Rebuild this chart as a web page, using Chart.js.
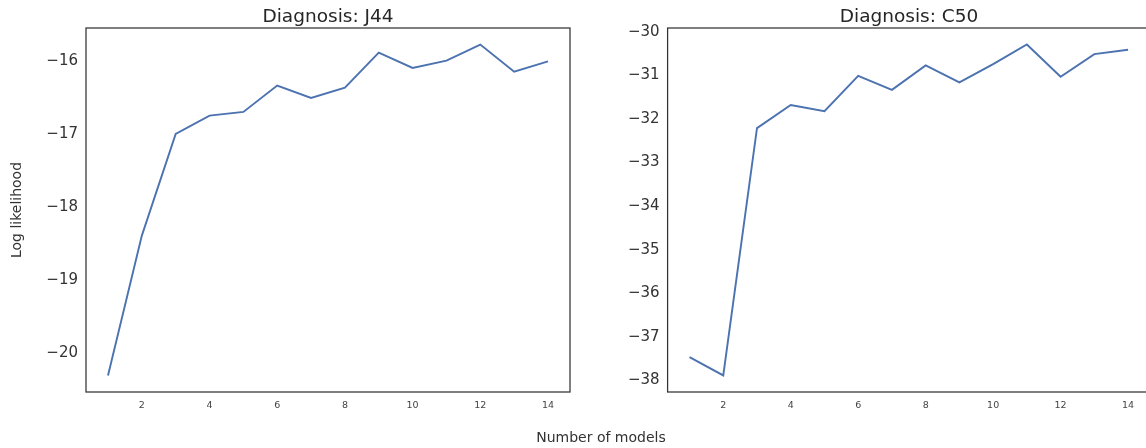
<!DOCTYPE html>
<html>
<head>
<meta charset="utf-8">
<script src="https://cdn.jsdelivr.net/npm/chart.js@4"></script>
<style>
  html, body { margin: 0; padding: 0; background: #fff; }
  body { width: 1146px; height: 448px; position: relative; overflow: hidden; }
  .panel { position: absolute; top: 0; height: 448px; }
  #left { left: 0; width: 656px; }
  #right { left: 580px; width: 658px; }
  #xlabel {
    position: absolute; left: 501px; width: 200px; top: 429px;
    text-align: center; font: 14px "DejaVu Sans"; color: #333;
  }
</style>
</head>
<body>
<div class="panel" id="left"><canvas id="j44Chart"></canvas></div>
<div class="panel" id="right"><canvas id="c50Chart"></canvas></div>
<div id="xlabel">Number of models</div>
<script>
const modelCounts = [1, 2, 3, 4, 5, 6, 7, 8, 9, 10, 11, 12, 13, 14];
const j44LogLik = [-20.30, -18.39, -17.00, -16.75, -16.70, -16.34, -16.51, -16.37, -15.89, -16.10, -16.00, -15.78, -16.15, -16.01];
const c50LogLik = [-37.47, -37.89, -32.21, -31.68, -31.82, -31.01, -31.33, -30.77, -31.16, -30.74, -30.29, -31.03, -30.51, -30.41];
const xTicks = [2, 4, 6, 8, 10, 12, 14];
const j44Ticks = [-20, -19, -18, -17, -16];
const c50Ticks = [-38, -37, -36, -35, -34, -33, -32, -31, -30];

Chart.defaults.font.family = "DejaVu Sans";
Chart.defaults.color = "#333";

// matplotlib-style box round the plot area
const frame = {
  id: "frame",
  afterDraw(chart) {
    const { ctx, chartArea: a } = chart;
    ctx.save();
    ctx.strokeStyle = "#333";
    ctx.lineWidth = 1.25;
    ctx.strokeRect(a.left, a.top, a.right - a.left, a.bottom - a.top);
    ctx.restore();
  },
};

const minus = (v) => String(v).replace("-", "\u2212");

const renderPanel = (canvasId, title, values, yTicks, yMin, yMax, leftW, rightW, yTitle) => {
  const canvas = document.querySelector(`#${canvasId}`);
  new Chart(canvas, {
    type: "line",
    data: {
      datasets: [
        {
          data: modelCounts.map((x, i) => ({ x, y: values[i] })),
          borderColor: "#4c72b0",
          borderWidth: 1.9,
          pointRadius: 0,
          tension: 0,
        },
      ],
    },
    options: {
      responsive: true,
      maintainAspectRatio: false,
      animation: false,
      layout: { padding: 0 },
      plugins: {
        legend: { display: false },
        tooltip: { enabled: false },
        title: {
          display: true,
          text: title,
          color: "#262626",
          font: { size: 18.5, weight: "normal", lineHeight: 1.1 },
          padding: { top: 7, bottom: 0.65 },
        },
      },
      scales: {
        x: {
          type: "linear",
          min: 0.35,
          max: 14.65,
          grid: { display: false, drawTicks: false },
          border: { display: false },
          afterBuildTicks: (s) => { s.ticks = xTicks.map((value) => ({ value })); },
          afterFit: (s) => { s.height = 56; },
          ticks: { padding: 8, color: "#444", font: { size: 9.5 }, maxRotation: 0 },
        },
        y: {
          min: yMin,
          max: yMax,
          grid: { display: false, drawTicks: false },
          border: { display: false },
          afterBuildTicks: (s) => { s.ticks = yTicks.map((value) => ({ value })); },
          afterFit: (s) => { s.width = leftW; },
          ticks: { padding: 8, font: { size: 15 }, callback: (v) => minus(v) },
          title: {
            display: !!yTitle,
            text: yTitle || "",
            color: "#333",
            font: { size: 14 },
            padding: { top: 9, bottom: 0 },
          },
        },
        // hidden spacer so the title centres over the plot area
        y2: {
          position: "right",
          grid: { display: false, drawTicks: false },
          border: { display: false },
          ticks: { display: false },
          afterFit: (s) => { s.width = rightW; },
        },
      },
    },
    plugins: [frame],
  });
};

window.addEventListener("DOMContentLoaded", () => {
  renderPanel("j44Chart", "Diagnosis: J44", j44LogLik, j44Ticks, -20.526, -15.554, 86, 86, "Log likelihood");
  renderPanel("c50Chart", "Diagnosis: C50", c50LogLik, c50Ticks, -38.27, -29.91, 87.6, 88, "");
});
</script>
</body>
</html>
